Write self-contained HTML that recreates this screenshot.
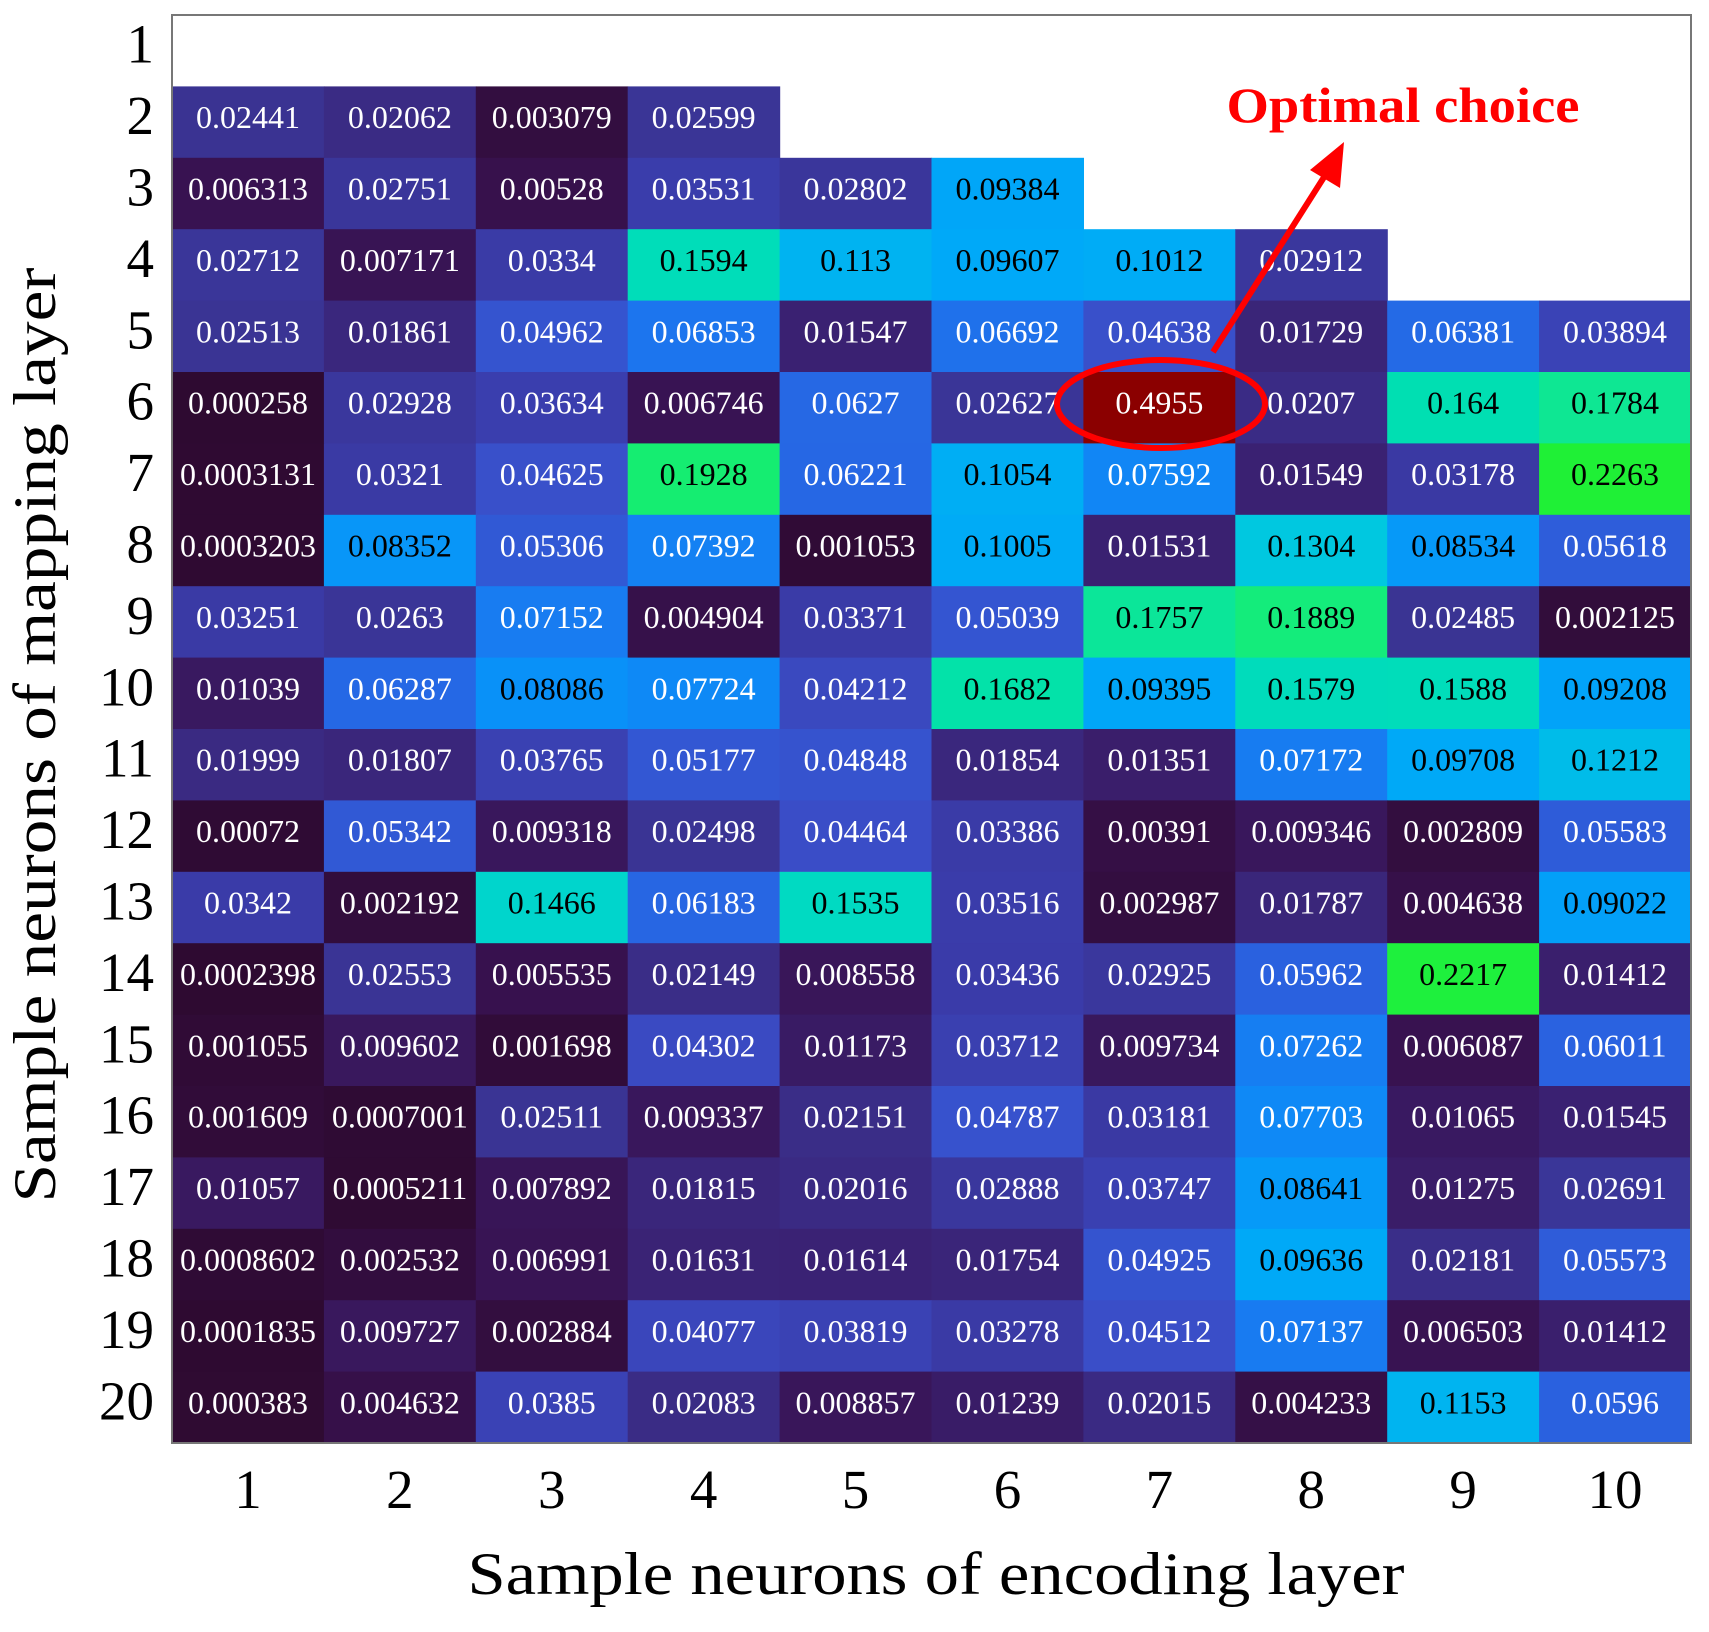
<!DOCTYPE html>
<html><head><meta charset="utf-8"><style>
body{margin:0;background:#fff;}
svg text{font-family:"Liberation Serif",serif;}
</style></head><body>
<svg id="s" width="1709" height="1627" xmlns="http://www.w3.org/2000/svg"></svg>
<script>
const D={2:"0.02441 0.02062 0.003079 0.02599",
3:"0.006313 0.02751 0.00528 0.03531 0.02802 0.09384",
4:"0.02712 0.007171 0.0334 0.1594 0.113 0.09607 0.1012 0.02912",
5:"0.02513 0.01861 0.04962 0.06853 0.01547 0.06692 0.04638 0.01729 0.06381 0.03894",
6:"0.000258 0.02928 0.03634 0.006746 0.0627 0.02627 0.4955 0.0207 0.164 0.1784",
7:"0.0003131 0.0321 0.04625 0.1928 0.06221 0.1054 0.07592 0.01549 0.03178 0.2263",
8:"0.0003203 0.08352 0.05306 0.07392 0.001053 0.1005 0.01531 0.1304 0.08534 0.05618",
9:"0.03251 0.0263 0.07152 0.004904 0.03371 0.05039 0.1757 0.1889 0.02485 0.002125",
10:"0.01039 0.06287 0.08086 0.07724 0.04212 0.1682 0.09395 0.1579 0.1588 0.09208",
11:"0.01999 0.01807 0.03765 0.05177 0.04848 0.01854 0.01351 0.07172 0.09708 0.1212",
12:"0.00072 0.05342 0.009318 0.02498 0.04464 0.03386 0.00391 0.009346 0.002809 0.05583",
13:"0.0342 0.002192 0.1466 0.06183 0.1535 0.03516 0.002987 0.01787 0.004638 0.09022",
14:"0.0002398 0.02553 0.005535 0.02149 0.008558 0.03436 0.02925 0.05962 0.2217 0.01412",
15:"0.001055 0.009602 0.001698 0.04302 0.01173 0.03712 0.009734 0.07262 0.006087 0.06011",
16:"0.001609 0.0007001 0.02511 0.009337 0.02151 0.04787 0.03181 0.07703 0.01065 0.01545",
17:"0.01057 0.0005211 0.007892 0.01815 0.02016 0.02888 0.03747 0.08641 0.01275 0.02691",
18:"0.0008602 0.002532 0.006991 0.01631 0.01614 0.01754 0.04925 0.09636 0.02181 0.05573",
19:"0.0001835 0.009727 0.002884 0.04077 0.03819 0.03278 0.04512 0.07137 0.006503 0.01412",
20:"0.000383 0.004632 0.0385 0.02083 0.008857 0.01239 0.02015 0.004233 0.1153 0.0596"};
const stops=[[0,[46,10,48]],[0.006,[56,18,80]],[0.015,[58,32,112]],[0.025,[58,52,148]],[0.035,[58,60,170]],[0.045,[58,78,200]],[0.06,[42,98,224]],[0.07,[26,120,240]],[0.08,[10,144,248]],[0.095,[0,168,248]],[0.115,[0,180,240]],[0.13,[0,200,224]],[0.15,[0,216,200]],[0.165,[0,224,176]],[0.18,[16,232,144]],[0.2,[24,240,96]],[0.23,[32,240,48]]];
function col(v){if(v>0.3)return"#8b0000";for(let i=1;i<stops.length;i++){if(v<=stops[i][0]){const a=stops[i-1],b=stops[i],t=(v-a[0])/(b[0]-a[0]);return"rgb("+a[1].map((c,k)=>Math.round(c+(b[1][k]-c)*t)).join(",")+")";}}return"rgb(32,240,48)";}
const L=172,T=15,W=151.9,H=71.4;let h="";
for(let r=2;r<=20;r++){D[r].split(" ").forEach((s,c)=>{const v=+s,x=L+c*W,y=T+(r-1)*H;
h+=`<rect x="${x}" y="${y}" width="${W+0.6}" height="${H+0.6}" fill="${col(v)}"/>`;
const fc=(v>0.08&&v<0.3)?"#000":"#fff";
h+=`<text x="${x+W/2}" y="${y+H/2+6}" font-size="32" text-anchor="middle" fill="${fc}">${s}</text>`;});}
h+=`<rect x="${L}" y="${T}" width="${10*W}" height="${20*H}" fill="none" stroke="#777" stroke-width="2"/>`;
for(let r=1;r<=20;r++)h+=`<text x="154" y="${T+(r-0.5)*H+12}" font-size="55" text-anchor="end">${r}</text>`;
for(let c=1;c<=10;c++)h+=`<text x="${L+(c-0.5)*W}" y="1508" font-size="55" text-anchor="middle">${c}</text>`;
h+=`<text x="936" y="1594" font-size="60" text-anchor="middle" textLength="937" lengthAdjust="spacingAndGlyphs">Sample neurons of encoding layer</text>`;
h+=`<text transform="translate(55,735) rotate(-90)" font-size="60" text-anchor="middle" textLength="935" lengthAdjust="spacingAndGlyphs">Sample neurons of mapping layer</text>`;
h+=`<ellipse cx="1161" cy="404" rx="104" ry="44" fill="none" stroke="#f00" stroke-width="6"/>`;
h+=`<line x1="1213" y1="352" x2="1326" y2="174" stroke="#f00" stroke-width="6"/><polygon points="1344,142 1310,170 1340,188" fill="#f00"/>`;
h+=`<text x="1403" y="122" font-size="50" font-weight="bold" fill="#f00" text-anchor="middle" textLength="353" lengthAdjust="spacingAndGlyphs">Optimal choice</text>`;
document.getElementById("s").innerHTML=h;
</script>
</body></html>
